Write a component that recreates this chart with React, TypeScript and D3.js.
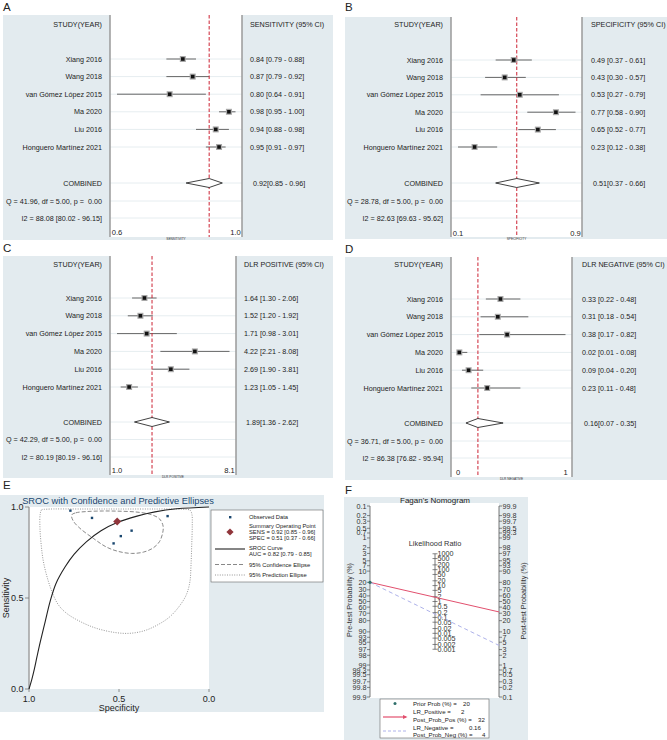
import React from 'react';
import * as d3 from 'd3';

// ---------------- DATA ----------------
const studies = ['Xiang 2016', 'Wang 2018', 'van Gómez López 2015', 'Ma 2020', 'Liu 2016', 'Honguero Martínez 2021'];

const sens = [0.84, 0.87, 0.80, 0.98, 0.94, 0.95];
const sensLo = [0.79, 0.79, 0.64, 0.95, 0.88, 0.91];
const sensHi = [0.88, 0.92, 0.91, 1.00, 0.98, 0.97];
const sensComb = [0.92, 0.85, 0.96];

const spec = [0.49, 0.43, 0.53, 0.77, 0.65, 0.23];
const specLo = [0.37, 0.30, 0.27, 0.58, 0.52, 0.12];
const specHi = [0.61, 0.57, 0.79, 0.90, 0.77, 0.38];
const specComb = [0.51, 0.37, 0.66];

const dlrPos = [1.64, 1.52, 1.71, 4.22, 2.69, 1.23];
const dlrPosLo = [1.30, 1.20, 0.98, 2.21, 1.90, 1.05];
const dlrPosHi = [2.06, 1.92, 3.01, 8.08, 3.81, 1.45];
const dlrPosComb = [1.89, 1.36, 2.62];

const dlrNeg = [0.33, 0.31, 0.38, 0.02, 0.09, 0.23];
const dlrNegLo = [0.22, 0.18, 0.17, 0.01, 0.04, 0.11];
const dlrNegHi = [0.48, 0.54, 0.82, 0.08, 0.20, 0.48];
const dlrNegComb = [0.16, 0.07, 0.35];

const heterogeneity = {
  A: ['Q = 41.96, df = 5.00, p =  0.00', 'I2 = 88.08 [80.02 - 96.15]'],
  B: ['Q = 28.78, df = 5.00, p =  0.00', 'I2 = 82.63 [69.63 - 95.62]'],
  C: ['Q = 42.29, df = 5.00, p =  0.00', 'I2 = 80.19 [80.19 - 96.16]'],
  D: ['Q = 36.71, df = 5.00, p =  0.00', 'I2 = 86.38 [76.82 - 95.94]'],
};
const tickLabelsA = ['0.6', '1.0'];
const tickLabelsB = ['0.1', '0.9'];
const tickLabelsC = ['1.0', '8.1'];
const tickLabelsD = ['0', '1'];

// SROC curve (specificity, sensitivity)
const srocSpec = [1.0, 0.985, 0.97, 0.955, 0.937, 0.91, 0.883, 0.85, 0.80, 0.75, 0.68, 0.60, 0.51, 0.40, 0.30, 0.18, 0.0];
const srocSens = [0.0, 0.05, 0.11, 0.18, 0.26, 0.37, 0.48, 0.58, 0.67, 0.74, 0.81, 0.87, 0.915, 0.95, 0.973, 0.99, 1.0];
// 95% confidence ellipse
const confSpec = [0.763, 0.74, 0.68, 0.59, 0.50, 0.40, 0.32, 0.275, 0.255, 0.258, 0.275, 0.31, 0.365, 0.43, 0.50, 0.57, 0.643, 0.717, 0.755];
const confSens = [0.956, 0.968, 0.975, 0.978, 0.977, 0.972, 0.958, 0.935, 0.895, 0.855, 0.81, 0.775, 0.752, 0.745, 0.755, 0.78, 0.828, 0.883, 0.925];
// 95% prediction ellipse
const predSpec = [0.938, 0.93, 0.90, 0.70, 0.50, 0.30, 0.15, 0.105, 0.095, 0.093, 0.096, 0.10, 0.106, 0.125, 0.161, 0.22, 0.29, 0.36, 0.44, 0.52, 0.624, 0.71, 0.79, 0.835, 0.865, 0.895, 0.92, 0.932, 0.939];
const predSens = [0.96, 0.984, 0.988, 0.989, 0.989, 0.989, 0.988, 0.982, 0.96, 0.90, 0.79, 0.68, 0.59, 0.52, 0.46, 0.395, 0.35, 0.32, 0.306, 0.31, 0.333, 0.368, 0.415, 0.46, 0.516, 0.60, 0.70, 0.79, 0.883];
const srocTicks = [1.0, 0.5, 0.0];
const srocTickLabels = ['1.0', '0.5', '0.0'];

// Fagan nomogram
const priorProb = 20;
const lrPositive = 2;
const postProbPos = 32;
const lrNegative = 0.16;
const postProbNeg = 4;
const probTickLabels = ['0.1', '0.2', '0.3', '0.5', '0.7', '1', '2', '3', '5', '7', '10', '20', '30', '40', '50', '60', '70', '80', '90', '93', '95', '97', '98', '99', '99.3', '99.5', '99.7', '99.8', '99.9'];
const lrTickLabels = ['1000', '500', '200', '100', '50', '20', '10', '5', '2', '1', '0.5', '0.2', '0.1', '0.05', '0.02', '0.01', '0.005', '0.002', '0.001'];

// ---------------- STYLE ----------------
const FONT = "'Liberation Sans', Arial, Helvetica, sans-serif";
const BG = '#e3ebef';
const NAVY = '#1a476f';

type ForestCfg = {
  bgX: number; bgY: number; bgW: number; bgH: number;
  plotL: number; plotR: number; whiteBottom: number;
  namesR: number; textX: number; combTextX: number;
  headerY: number; row0: number; step: number; combY: number; qY: number; i2Y: number;
  tickY: number; titleY: number;
};

function fmt2(v: number) { return v.toFixed(2); }

function Forest({ cfg, est, lo, hi, comb, header, axisTitle, het, ticks, log }: {
  cfg: ForestCfg; est: number[]; lo: number[]; hi: number[]; comb: number[];
  header: string; axisTitle: string; het: string[]; ticks: string[]; log?: boolean;
}) {
  const dmin = d3.min([...lo, comb[1]]) as number;
  const dmax = d3.max([...hi, comb[2]]) as number;
  const x = (log ? d3.scaleLog() : d3.scaleLinear()).domain([dmin, dmax]).range([cfg.plotL + 7, cfg.plotR - 6.5]);
  const ys = studies.map((_, i) => cfg.row0 + i * cfg.step);
  const gridYs = [...ys, cfg.combY, cfg.qY, cfg.i2Y];
  const cx = x(comb[0]);
  const dh = 4.5;
  const diamond = `M${x(comb[1])},${cfg.combY} L${cx},${cfg.combY - dh} L${x(comb[2])},${cfg.combY} L${cx},${cfg.combY + dh} Z`;
  const ts = { fontFamily: FONT, fontSize: 7.2, fill: '#222' } as const;
  return (
    <g>
      <rect x={cfg.bgX} y={cfg.bgY} width={cfg.bgW} height={cfg.bgH} fill={BG} />
      <rect x={cfg.plotL} y={cfg.bgY} width={cfg.plotR - cfg.plotL} height={cfg.whiteBottom - cfg.bgY} fill="#fff" />
      {gridYs.map((y, i) => (
        <line key={'g' + i} x1={cfg.plotL} x2={cfg.plotR} y1={y} y2={y} stroke="#e6edf0" strokeWidth={1} />
      ))}
      <line x1={cfg.plotL} x2={cfg.plotL} y1={cfg.bgY} y2={cfg.whiteBottom} stroke="#9a9a9a" strokeWidth={1.5} />
      <line x1={cfg.plotR} x2={cfg.plotR} y1={cfg.bgY} y2={cfg.whiteBottom} stroke="#9a9a9a" strokeWidth={1.5} />
      {ys.map((y, i) => (
        <g key={'r' + i}>
          <line x1={x(lo[i])} x2={x(hi[i])} y1={y} y2={y} stroke="#666" strokeWidth={1} />
        </g>
      ))}
      <line x1={cx} x2={cx} y1={cfg.bgY} y2={cfg.whiteBottom} stroke="#cc2233" strokeWidth={1} strokeDasharray="3.5,2" />
      {ys.map((y, i) => (
        <g key={'m' + i}>
          <rect x={x(est[i]) - 3} y={y - 3} width={6} height={6} fill="#a8a8a8" />
          <rect x={x(est[i]) - 1.8} y={y - 1.8} width={3.6} height={3.6} fill="#111" />
        </g>
      ))}
      <path d={diamond} fill="#fff" stroke="#111" strokeWidth={0.8} />
      <text x={cfg.namesR} y={cfg.headerY} textAnchor="end" dominantBaseline="central" {...ts}>STUDY(YEAR)</text>
      <text x={cfg.textX} y={cfg.headerY} dominantBaseline="central" {...ts}>{header}</text>
      {ys.map((y, i) => (
        <g key={'t' + i}>
          <text x={cfg.namesR} y={y} textAnchor="end" dominantBaseline="central" {...ts}>{studies[i]}</text>
          <text x={cfg.textX} y={y} dominantBaseline="central" {...ts}>{`${fmt2(est[i])} [${fmt2(lo[i])} - ${fmt2(hi[i])}]`}</text>
        </g>
      ))}
      <text x={cfg.namesR} y={cfg.combY} textAnchor="end" dominantBaseline="central" {...ts}>COMBINED</text>
      <text x={cfg.combTextX} y={cfg.combY} dominantBaseline="central" {...ts}>{`${fmt2(comb[0])}[${fmt2(comb[1])} - ${fmt2(comb[2])}]`}</text>
      <text x={cfg.namesR} y={cfg.qY} textAnchor="end" dominantBaseline="central" {...ts} style={{ whiteSpace: 'pre' }}>{het[0]}</text>
      <text x={cfg.namesR} y={cfg.i2Y} textAnchor="end" dominantBaseline="central" {...ts}>{het[1]}</text>
      <text x={x(dmin)} y={cfg.tickY} textAnchor="middle" dominantBaseline="central" {...ts} fontSize={7.6}>{ticks[0]}</text>
      <text x={x(dmax)} y={cfg.tickY} textAnchor="middle" dominantBaseline="central" {...ts} fontSize={7.6}>{ticks[1]}</text>
      <text x={(cfg.plotL + cfg.plotR) / 2} y={cfg.titleY} textAnchor="middle" dominantBaseline="central" fontFamily={FONT} fontSize={3.2} fill="#333">{axisTitle}</text>
    </g>
  );
}

function SROC() {
  const x = d3.scaleLinear().domain([1, 0]).range([29, 209]);
  const y = d3.scaleLinear().domain([0, 1]).range([689, 507]);
  const curve = d3.line<number>().x((_, i) => x(srocSpec[i])).y((_, i) => y(srocSens[i])).curve(d3.curveCatmullRom.alpha(0.5));
  const conf = d3.line<number>().x((_, i) => x(confSpec[i])).y((_, i) => y(confSens[i])).curve(d3.curveCatmullRomClosed.alpha(0.5));
  const pred = d3.line<number>().x((_, i) => x(predSpec[i])).y((_, i) => y(predSens[i])).curve(d3.curveCatmullRomClosed.alpha(0.5));
  const ls = { fontFamily: FONT, fontSize: 5.8, fill: '#222' } as const;
  const sx = x(specComb[0]);
  const sy = y(sensComb[0]);
  const dmd = (cx: number, cy: number, r: number) => `M${cx},${cy - r} L${cx + r},${cy} L${cx},${cy + r} L${cx - r},${cy} Z`;
  const lgX = 211, lgY = 510;
  return (
    <g>
      <rect x={0} y={495} width={324} height={217} fill={BG} />
      <rect x={29} y={507} width={180} height={182} fill="#fff" />
      <text x={118} y={501} textAnchor="middle" dominantBaseline="central" fontFamily={FONT} fontSize={9.3} fill={NAVY}>SROC with Confidence and Predictive Ellipses</text>
      <line x1={29} x2={29} y1={507} y2={689} stroke="#a0a0a0" strokeWidth={1.5} />
      {srocTicks.map((t, i) => (
        <g key={'yt' + i}>
          <line x1={25} x2={29} y1={y(t)} y2={y(t)} stroke="#777" strokeWidth={0.8} />
          <text x={23.5} y={y(t)} textAnchor="end" dominantBaseline="central" fontFamily={FONT} fontSize={9} fill="#222">{srocTickLabels[i]}</text>
          <line x1={x(t)} x2={x(t)} y1={689} y2={692} stroke="#777" strokeWidth={0.8} />
          <text x={x(t)} y={698.5} textAnchor="middle" dominantBaseline="central" fontFamily={FONT} fontSize={9} fill="#222">{srocTickLabels[i]}</text>
        </g>
      ))}
      <text x={119} y={707.5} textAnchor="middle" dominantBaseline="central" fontFamily={FONT} fontSize={9} fill="#222">Specificity</text>
      <text transform="translate(6,598) rotate(-90)" textAnchor="middle" dominantBaseline="central" fontFamily={FONT} fontSize={9} fill="#222">Sensitivity</text>
      <path d={pred(predSpec) as string} fill="none" stroke="#8a8a8a" strokeWidth={0.9} strokeDasharray="1,1.4" />
      <path d={conf(confSpec) as string} fill="none" stroke="#7a7a7a" strokeWidth={0.9} strokeDasharray="4,2" />
      <path d={curve(srocSpec) as string} fill="none" stroke="#222" strokeWidth={1.1} />
      {spec.map((s, i) => (
        <rect key={'p' + i} x={x(s) - 1.2} y={y(sens[i]) - 1.2} width={2.4} height={2.4} fill={NAVY} />
      ))}
      <path d={dmd(sx, sy, 4)} fill="#90353b" />
      {/* legend */}
      <rect x={lgX} y={lgY} width={112} height={72} fill="#fff" stroke="#666" strokeWidth={0.6} />
      <rect x={229} y={516} width={2.4} height={2.4} fill={NAVY} />
      <text x={249} y={517.3} dominantBaseline="central" {...ls}>Observed Data</text>
      <path d={dmd(230, 532, 3.6)} fill="#90353b" />
      <text x={249} y={526} dominantBaseline="central" {...ls}>Summary Operating Point</text>
      <text x={249} y={532} dominantBaseline="central" {...ls}>{`SENS = ${fmt2(sensComb[0])} [${fmt2(sensComb[1])} - ${fmt2(sensComb[2])}]`}</text>
      <text x={249} y={538} dominantBaseline="central" {...ls}>{`SPEC = ${fmt2(specComb[0])} [${fmt2(specComb[1])} - ${fmt2(specComb[2])}]`}</text>
      <line x1={215} x2={245} y1={549} y2={549} stroke="#222" strokeWidth={1.1} />
      <text x={249} y={547.5} dominantBaseline="central" {...ls}>SROC Curve</text>
      <text x={249} y={554} dominantBaseline="central" {...ls}>AUC = 0.82 [0.79 - 0.85]</text>
      <line x1={215} x2={245} y1={564.5} y2={564.5} stroke="#7a7a7a" strokeWidth={0.9} strokeDasharray="4,2" />
      <text x={249} y={564.5} dominantBaseline="central" {...ls}>95% Confidence Ellipse</text>
      <line x1={215} x2={245} y1={575} y2={575} stroke="#8a8a8a" strokeWidth={0.9} strokeDasharray="1,1.4" />
      <text x={249} y={575} dominantBaseline="central" {...ls}>95% Prediction Ellipse</text>
    </g>
  );
}

function Fagan() {
  const logit = (p: number) => Math.log(p / (1 - p));
  const top = 506, bot = 697;
  const xl = 370, xr = 499, xm = 435;
  const yPre = d3.scaleLinear().domain([logit(0.001), logit(0.999)]).range([top, bot]);
  const yPost = d3.scaleLinear().domain([logit(0.999), logit(0.001)]).range([top, bot]);
  const mid = yPre(0);
  const half = (yPre(logit(0.999)) - yPre(0)) / 2;
  const yLR = d3.scaleLog().domain([1000, 0.001]).range([mid - half, mid + half]);
  const ts = { fontFamily: FONT, fontSize: 7.2, fill: '#333' } as const;
  const ls = { fontFamily: FONT, fontSize: 6.1, fill: '#222' } as const;
  const yPrior = yPre(logit(priorProb / 100));
  return (
    <g>
      <rect x={344} y={497} width={184} height={243} fill={BG} />
      <rect x={xl} y={503} width={xr - xl} height={195} fill="#fff" />
      <text x={435} y={500.5} textAnchor="middle" dominantBaseline="central" fontFamily={FONT} fontSize={8} fill="#222">Fagan's Nomogram</text>
      <line x1={xl} x2={xl} y1={top} y2={bot} stroke="#555" strokeWidth={0.8} />
      <line x1={xr} x2={xr} y1={top} y2={bot} stroke="#555" strokeWidth={0.8} />
      {probTickLabels.map((l, i) => {
        const v = parseFloat(l) / 100;
        const yl = yPre(logit(v));
        const yr = yPost(logit(v));
        return (
          <g key={'pt' + i}>
            <line x1={xl - 3} x2={xl} y1={yl} y2={yl} stroke="#555" strokeWidth={0.7} />
            <text x={xl - 3.5} y={yl} textAnchor="end" dominantBaseline="central" {...ts}>{l}</text>
            <line x1={xr} x2={xr + 3} y1={yr} y2={yr} stroke="#555" strokeWidth={0.7} />
            <text x={xr + 3.5} y={yr} dominantBaseline="central" {...ts}>{l}</text>
          </g>
        );
      })}
      <text x={435} y={543} textAnchor="middle" dominantBaseline="central" fontFamily={FONT} fontSize={7.4} fill="#333">Likelihood Ratio</text>
      <line x1={xm} x2={xm} y1={yLR(1000)} y2={yLR(0.001)} stroke="#555" strokeWidth={0.8} />
      {lrTickLabels.map((l, i) => {
        const yy = yLR(parseFloat(l));
        return (
          <g key={'lr' + i}>
            <line x1={xm - 2.5} x2={xm + 2.5} y1={yy} y2={yy} stroke="#555" strokeWidth={0.7} />
            <text x={xm + 2.5} y={yy} dominantBaseline="central" {...ts}>{l}</text>
          </g>
        );
      })}
      <text transform={`translate(349,600) rotate(-90)`} textAnchor="middle" dominantBaseline="central" {...ts}>Pre-test Probability (%)</text>
      <text transform={`translate(523,601) rotate(-90)`} textAnchor="middle" dominantBaseline="central" {...ts}>Post-test Probability (%)</text>
      <line x1={xl} x2={xr} y1={yPrior} y2={yPost(logit(postProbPos / 100))} stroke="#e2506e" strokeWidth={1} />
      <line x1={xl} x2={xr} y1={yPrior} y2={yPost(logit(postProbNeg / 100))} stroke="#aeb2ea" strokeWidth={1} strokeDasharray="4,3" />
      <circle cx={xl} cy={yPrior} r={1.6} fill="#2f6f6a" />
      {/* legend */}
      <rect x={380} y={699} width={109} height={39} fill="#fff" stroke="#666" strokeWidth={0.6} />
      <circle cx={395} cy={703.5} r={1.5} fill="#2f6f6a" />
      <text x={413} y={703.5} dominantBaseline="central" {...ls}>Prior Prob (%) =</text>
      <text x={463} y={703.5} dominantBaseline="central" {...ls}>{priorProb}</text>
      <line x1={383} x2={406} y1={717} y2={717} stroke="#e2506e" strokeWidth={1.2} />
      <path d="M403,715 L407.5,717 L403,719 Z" fill="#e2506e" />
      <text x={413} y={711.5} dominantBaseline="central" {...ls}>LR_Positive =</text>
      <text x={461} y={711.5} dominantBaseline="central" {...ls}>{lrPositive}</text>
      <text x={413} y={719.5} dominantBaseline="central" {...ls}>Post_Prob_Pos (%) =</text>
      <text x={478} y={719.5} dominantBaseline="central" {...ls}>{postProbPos}</text>
      <line x1={383} x2={407} y1={731} y2={731} stroke="#aeb2ea" strokeWidth={1} strokeDasharray="3,2" />
      <text x={413} y={727} dominantBaseline="central" {...ls}>LR_Negative =</text>
      <text x={469} y={727} dominantBaseline="central" {...ls}>{lrNegative}</text>
      <text x={413} y={734.5} dominantBaseline="central" {...ls}>Post_Prob_Neg (%) =</text>
      <text x={482} y={734.5} dominantBaseline="central" {...ls}>{postProbNeg}</text>
    </g>
  );
}

const cfgA: ForestCfg = { bgX: 3, bgY: 15, bgW: 330, bgH: 225, plotL: 110, plotR: 242, whiteBottom: 237, namesR: 102, textX: 250, combTextX: 253, headerY: 24, row0: 59, step: 17.6, combY: 183, qY: 201, i2Y: 218, tickY: 232.5, titleY: 238.5 };
const cfgB: ForestCfg = { bgX: 345, bgY: 17, bgW: 322, bgH: 222, plotL: 451, plotR: 582, whiteBottom: 237, namesR: 443, textX: 591, combTextX: 593, headerY: 24, row0: 60, step: 17.4, combY: 183, qY: 201, i2Y: 218, tickY: 233, titleY: 238.5 };
const cfgC: ForestCfg = { bgX: 3, bgY: 256, bgW: 330, bgH: 222, plotL: 110, plotR: 236, whiteBottom: 475, namesR: 102, textX: 244, combTextX: 246, headerY: 264, row0: 298, step: 17.8, combY: 422, qY: 439.5, i2Y: 457, tickY: 470, titleY: 476.5 };
const cfgD: ForestCfg = { bgX: 345, bgY: 257, bgW: 322, bgH: 223, plotL: 451, plotR: 572, whiteBottom: 477, namesR: 443, textX: 582, combTextX: 584, headerY: 264, row0: 299, step: 17.8, combY: 423, qY: 441, i2Y: 458, tickY: 472.5, titleY: 478.5 };

export default function App() {
  const letter = { fontFamily: FONT, fontSize: 11.5, fill: '#222' } as const;
  return (
    <svg width={667} height={740} style={{ position: 'absolute', left: 0, top: 0, background: '#fff' }}>
      <text x={3} y={11} {...letter}>A</text>
      <text x={345} y={11} {...letter}>B</text>
      <text x={3} y={252} {...letter}>C</text>
      <text x={345} y={253} {...letter}>D</text>
      <text x={3} y={489} {...letter}>E</text>
      <text x={345} y={494} {...letter}>F</text>
      <Forest cfg={cfgA} est={sens} lo={sensLo} hi={sensHi} comb={sensComb} header="SENSITIVITY (95% CI)" axisTitle="SENSITIVITY" het={heterogeneity.A} ticks={tickLabelsA} />
      <Forest cfg={cfgB} est={spec} lo={specLo} hi={specHi} comb={specComb} header="SPECIFICITY (95% CI)" axisTitle="SPECIFICITY" het={heterogeneity.B} ticks={tickLabelsB} />
      <Forest cfg={cfgC} est={dlrPos} lo={dlrPosLo} hi={dlrPosHi} comb={dlrPosComb} header="DLR POSITIVE (95% CI)" axisTitle="DLR POSITIVE" het={heterogeneity.C} ticks={tickLabelsC} log />
      <Forest cfg={cfgD} est={dlrNeg} lo={dlrNegLo} hi={dlrNegHi} comb={dlrNegComb} header="DLR NEGATIVE (95% CI)" axisTitle="DLR NEGATIVE" het={heterogeneity.D} ticks={tickLabelsD} />
      <SROC />
      <Fagan />
    </svg>
  );
}
